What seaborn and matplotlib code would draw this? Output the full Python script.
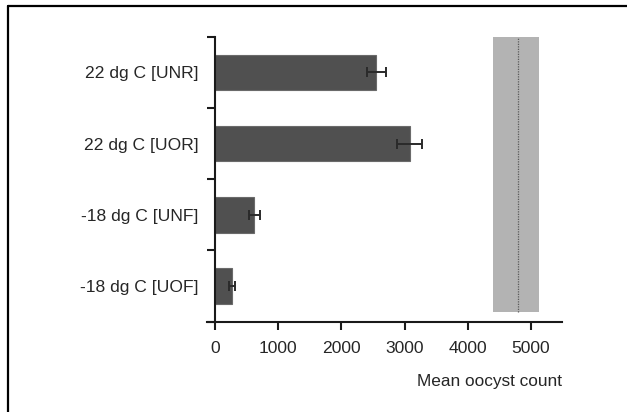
import numpy as np
import pandas as pd
import matplotlib
matplotlib.use("Agg")
import matplotlib.pyplot as plt
from matplotlib.lines import Line2D
import seaborn as sns

# values
groups = ["22 dg C [UNR]", "22 dg C [UOR]", "-18 dg C [UNF]", "-18 dg C [UOF]"]
mean_count = [2555, 3080, 620, 265]
sem_count = [148, 200, 88, 48]

# reference band (mean with range)
band_low = 4395
band_high = 5130
band_mean = 4800

df = pd.DataFrame({"group": groups, "mean": mean_count})

sns.set_theme(style="white")
plt.rcParams["font.family"] = ["Liberation Sans", "DejaVu Sans"]
plt.rcParams["text.color"] = "#1a1a1a"

fig = plt.figure(figsize=(6.27, 4.12), dpi=100)
ax = fig.add_axes([206.7 / 627, 1 - 321.7 / 412, 355 / 627, 285 / 412])

sns.barplot(data=df, x="mean", y="group", orient="h", color="#505050",
            saturation=1, width=0.5, edgecolor="#6a6a6a", linewidth=0.8,
            errorbar=None, ax=ax)
ax.errorbar(mean_count, np.arange(len(groups)), xerr=sem_count, fmt="none",
            ecolor="#2a2a2a", elinewidth=1.4, capsize=3.6, capthick=1.4, zorder=4)

# shaded band with dotted centre line
ax.axvspan(band_low, band_high, ymin=0.034, ymax=1.0, color="#b3b3b3",
           lw=0, zorder=0)
ax.axvline(band_mean, ymin=0.034, ymax=1.0, color="#5a5a5a", lw=0.9,
           ls=(0, (1, 1)), zorder=1)

ax.set_xlim(-131, 5486)
ax.set_ylim(len(groups) - 0.5, -0.5)
ax.set_xticks([0, 1000, 2000, 3000, 4000, 5000])
ax.set_yticks(np.arange(len(groups)))
ax.set_yticks(np.arange(len(groups) + 1) - 0.5, minor=True)

for side in ["top", "right"]:
    ax.spines[side].set_visible(False)
ax.spines["left"].set_position(("data", 0))
for side in ["left", "bottom"]:
    ax.spines[side].set_linewidth(1.5)
    ax.spines[side].set_color("#1a1a1a")

ax.tick_params(axis="y", which="major", length=0, pad=12, labelsize=12.6)
ax.tick_params(axis="y", which="minor", left=True, length=6, width=1.5,
               color="#1a1a1a")
ax.tick_params(axis="x", which="major", bottom=True, length=6, width=1.5,
               color="#1a1a1a", pad=8, labelsize=12.6)

ax.set_ylabel("")
ax.set_xlabel("Mean oocyst count", loc="right", fontsize=12.4, labelpad=13)

# frame lines on the left and top of the figure
fig.add_artist(Line2D([8 / 627, 8 / 627], [0, 1 - 6 / 412], color="black",
                      lw=1.6, transform=fig.transFigure))
fig.add_artist(Line2D([8 / 627, 1], [1 - 6 / 412, 1 - 6 / 412], color="black",
                      lw=1.6, transform=fig.transFigure))

fig.savefig("out.png", dpi=100, facecolor="white")
